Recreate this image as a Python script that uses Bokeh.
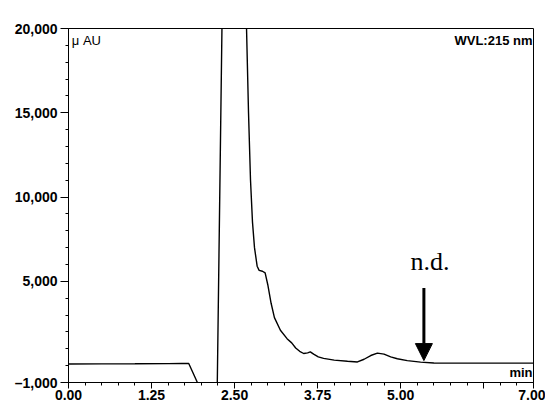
from bokeh.plotting import figure
from bokeh.models import FixedTicker, Label, Arrow, NormalHead, ColumnDataSource
from bokeh.embed import file_html
from bokeh.resources import INLINE

# chromatogram trace (min, µAU)
time_min = [0.00, 0.50, 1.00, 1.50, 1.70, 1.81, 1.86, 1.94, 2.00, 2.20, 2.24, 2.27,
            2.31, 2.35, 2.60, 2.68, 2.71, 2.74, 2.77, 2.80, 2.84, 2.87, 2.92, 2.96,
            3.00, 3.05, 3.10, 3.19, 3.29, 3.36, 3.42, 3.48, 3.54, 3.60, 3.64, 3.69,
            3.76, 3.84, 4.00, 4.20, 4.35, 4.45, 4.55, 4.65, 4.75, 4.85, 4.95, 5.10,
            5.30, 5.50, 6.00, 7.00]
signal_uau = [100, 105, 110, 120, 130, 130, -300, -1000, -2000, -2000, -1000, 8000,
              20000, 30000, 30000, 20000, 15000, 11000, 8500, 7000, 5900, 5650, 5600, 5500,
              4800, 3700, 2850, 2100, 1600, 1350, 1050, 850, 720, 760, 820, 680,
              520, 430, 330, 260, 220, 380, 600, 740, 680, 520, 410, 300,
              210, 160, 150, 150]

x_ticks = [0.0, 1.25, 2.5, 3.75, 5.0, 6.25, 7.0]
x_labels = {0.0: "0.00", 1.25: "1.25", 2.5: "2.50", 3.75: "3.75", 5.0: "5.00", 6.25: "", 7.0: "7.00"}
y_ticks = [-1000, 5000, 10000, 15000, 20000]
y_labels = {-1000: "\u20131,000", 5000: "5,000", 10000: "10,000", 15000: "15,000", 20000: "20,000"}

# annotation: not-detected marker
nd_time = 5.35
nd_arrow_top = 4600
nd_arrow_tip = 300
nd_text = "n.d."

p = figure(width=545, height=408, output_backend="svg", toolbar_location=None,
           x_range=(0, 7.0), y_range=(-1000, 20000),
           min_border_left=68, min_border_right=12, min_border_top=28, min_border_bottom=26)
p.background_fill_color = "white"
p.border_fill_color = "white"
p.outline_line_color = "black"
p.outline_line_width = 1
p.grid.visible = False

src = ColumnDataSource(dict(t=time_min, v=signal_uau))
p.line("t", "v", source=src, line_color="black", line_width=1.4)

FONT = "Liberation Sans"
for ax in (p.xaxis[0], p.yaxis[0]):
    ax.axis_line_color = "black"
    ax.major_tick_line_color = "black"
    ax.minor_tick_line_color = "black"
    ax.major_tick_in = 0
    ax.minor_tick_in = 0
    ax.major_label_text_font = FONT
    ax.major_label_text_font_size = "14px"
    ax.major_label_text_font_style = "bold"
    ax.major_label_text_color = "black"

p.xaxis.ticker = FixedTicker(ticks=x_ticks, minor_ticks=[i * 0.25 for i in range(29)])
p.xaxis.major_label_overrides = x_labels
p.xaxis.major_tick_out = 6
p.xaxis.minor_tick_out = 3
p.xaxis.major_label_standoff = 1

p.yaxis.ticker = FixedTicker(ticks=y_ticks, minor_ticks=list(range(-1000, 20001, 1000)))
p.yaxis.major_label_overrides = y_labels
p.yaxis.major_tick_out = 8
p.yaxis.minor_tick_out = 3
p.yaxis.major_label_standoff = 3

p.add_layout(Label(x=0.05, y=20000, text="\u03bc AU", text_font=FONT, text_font_size="13px",
                   text_baseline="top", y_offset=-4, text_color="black"))
p.add_layout(Label(x=7.0, y=20000, text="WVL:215 nm", text_font=FONT, text_font_size="13px",
                   text_align="right", text_baseline="top", y_offset=-4, x_offset=-1,
                   text_font_style="bold", text_color="black"))
p.add_layout(Label(x=7.0, y=-1000, text="min", text_font=FONT, text_font_size="13px",
                   text_align="right", text_baseline="bottom", y_offset=3, x_offset=-1,
                   text_font_style="bold", text_color="black"))

p.add_layout(Arrow(x_start=nd_time, y_start=nd_arrow_top, x_end=nd_time, y_end=nd_arrow_tip,
                   line_width=3, line_color="black",
                   end=NormalHead(size=17, fill_color="black", line_color="black")))
p.add_layout(Label(x=nd_time, y=nd_arrow_top, text=nd_text, text_font="Liberation Serif",
                   text_font_size="26px", text_align="center", text_baseline="bottom",
                   x_offset=6, y_offset=12, text_color="black"))

open("out.html", "w").write(file_html(p, INLINE))
